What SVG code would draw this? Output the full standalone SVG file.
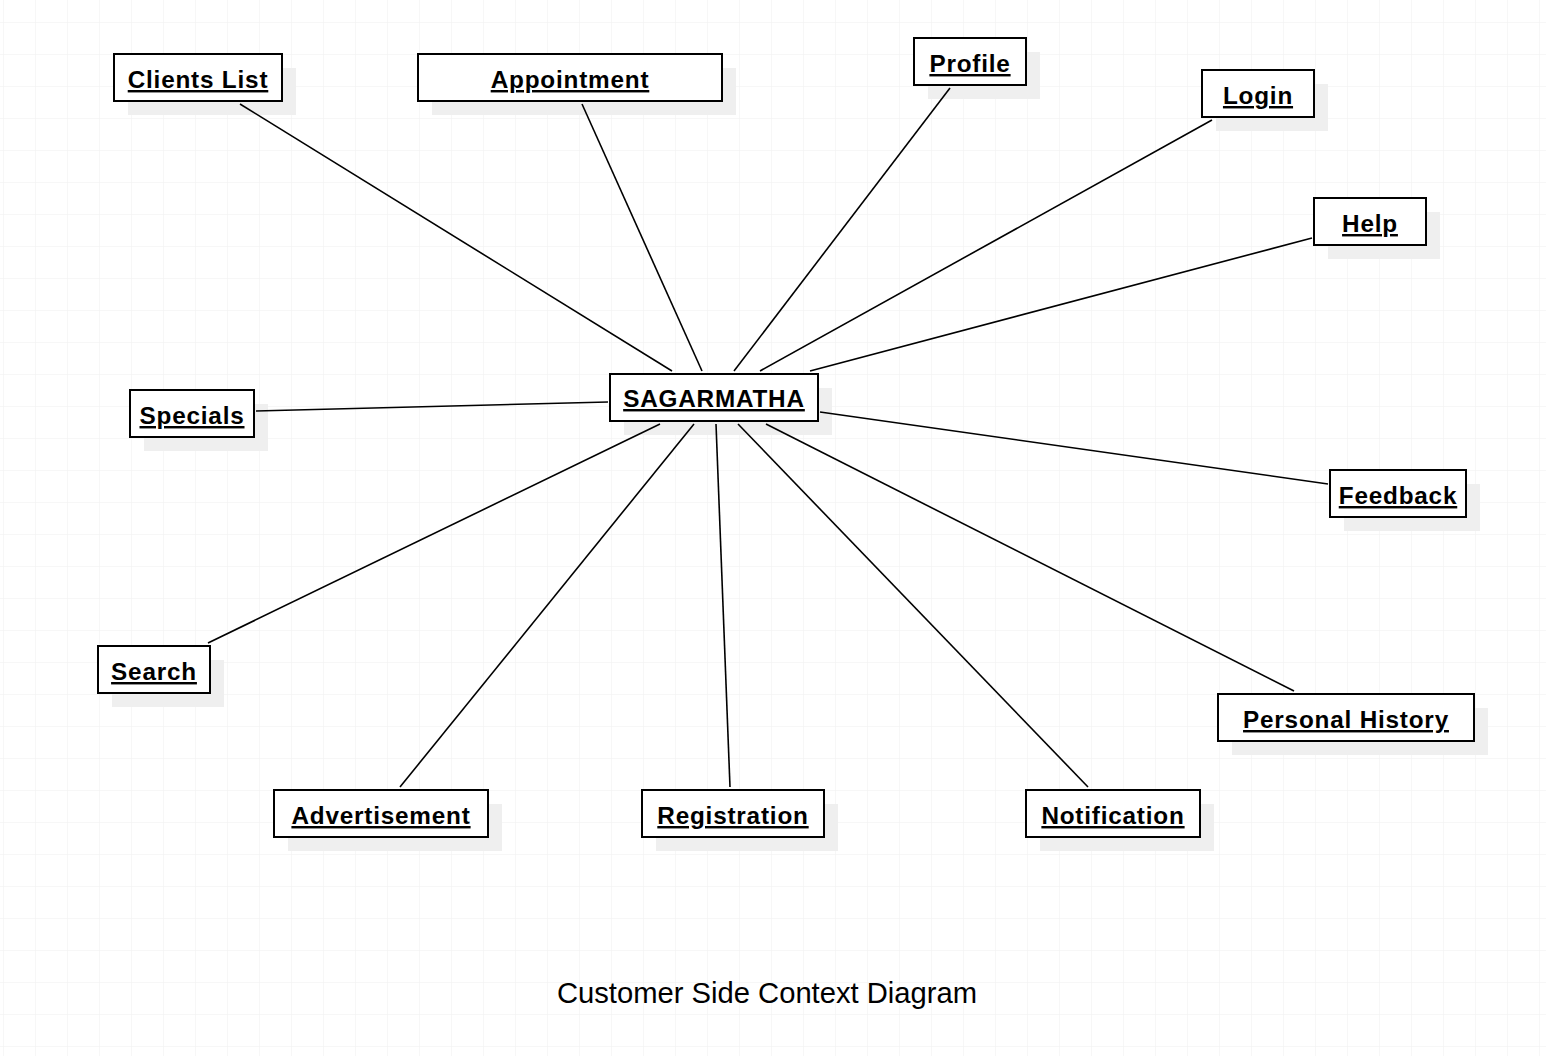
<svg xmlns="http://www.w3.org/2000/svg" width="1546" height="1056" viewBox="0 0 1546 1056">
<defs>
<pattern id="grid" x="3" y="22" width="32" height="32" patternUnits="userSpaceOnUse">
<path d="M0 0H32M0 0V32" fill="none" stroke="#efefef" stroke-width="1"/>
</pattern>
<style>
.box{fill:#fff;stroke:#000;stroke-width:2}
.sh rect{fill:#efefef}
.lbl{font-family:"Liberation Sans",Arial,sans-serif;font-size:24.3px;letter-spacing:0.8px;font-weight:bold;text-anchor:middle;text-decoration:underline;fill:#000}
.title{font-family:"Liberation Sans",Arial,sans-serif;font-size:29.2px;text-anchor:middle;fill:#000}
.con line{stroke:#000;stroke-width:1.6}
</style>
</defs>
<rect width="1546" height="1056" fill="#fff"/>
<rect width="1546" height="1056" fill="url(#grid)"/>
<g id="shadows" class="sh">
<rect x="128" y="68" width="168" height="47"/>
<rect x="432" y="68" width="304" height="47"/>
<rect x="928" y="52" width="112" height="47"/>
<rect x="1216" y="84" width="112" height="47"/>
<rect x="1328" y="212" width="112" height="47"/>
<rect x="624" y="388" width="208" height="47"/>
<rect x="144" y="404" width="124" height="47"/>
<rect x="1344" y="484" width="136" height="47"/>
<rect x="112" y="660" width="112" height="47"/>
<rect x="1232" y="708" width="256" height="47"/>
<rect x="288" y="804" width="214" height="47"/>
<rect x="656" y="804" width="182" height="47"/>
<rect x="1040" y="804" width="174" height="47"/>
</g>
<g id="connectors" class="con">
<line x1="240" y1="104" x2="672" y2="371"/>
<line x1="582" y1="104" x2="702" y2="371"/>
<line x1="950" y1="88" x2="734" y2="371"/>
<line x1="1212" y1="120" x2="760" y2="371"/>
<line x1="1312" y1="238" x2="810" y2="371"/>
<line x1="256" y1="411" x2="608" y2="402"/>
<line x1="1328" y1="484" x2="820" y2="412"/>
<line x1="208" y1="643" x2="660" y2="424"/>
<line x1="400" y1="787" x2="694" y2="424"/>
<line x1="730" y1="787" x2="716" y2="424"/>
<line x1="1088" y1="787" x2="738" y2="424"/>
<line x1="1294" y1="691" x2="766" y2="424"/>
</g>
<g id="clients-list"><rect class="box" x="114" y="54" width="168" height="47"/><text class="lbl" x="198" y="88">Clients List</text></g>
<g id="appointment"><rect class="box" x="418" y="54" width="304" height="47"/><text class="lbl" x="570" y="88">Appointment</text></g>
<g id="profile"><rect class="box" x="914" y="38" width="112" height="47"/><text class="lbl" x="970" y="72">Profile</text></g>
<g id="login"><rect class="box" x="1202" y="70" width="112" height="47"/><text class="lbl" x="1258" y="104">Login</text></g>
<g id="help"><rect class="box" x="1314" y="198" width="112" height="47"/><text class="lbl" x="1370" y="232">Help</text></g>
<g id="sagarmatha"><rect class="box" x="610" y="374" width="208" height="47"/><text class="lbl" x="714" y="407">SAGARMATHA</text></g>
<g id="specials"><rect class="box" x="130" y="390" width="124" height="47"/><text class="lbl" x="192" y="424">Specials</text></g>
<g id="feedback"><rect class="box" x="1330" y="470" width="136" height="47"/><text class="lbl" x="1398" y="504">Feedback</text></g>
<g id="search"><rect class="box" x="98" y="646" width="112" height="47"/><text class="lbl" x="154" y="680">Search</text></g>
<g id="personal-history"><rect class="box" x="1218" y="694" width="256" height="47"/><text class="lbl" x="1346" y="728">Personal History</text></g>
<g id="advertisement"><rect class="box" x="274" y="790" width="214" height="47"/><text class="lbl" x="381" y="824">Advertisement</text></g>
<g id="registration"><rect class="box" x="642" y="790" width="182" height="47"/><text class="lbl" x="733" y="824">Registration</text></g>
<g id="notification"><rect class="box" x="1026" y="790" width="174" height="47"/><text class="lbl" x="1113" y="824">Notification</text></g>
<text class="title" x="767" y="1003">Customer Side Context Diagram</text>
</svg>
